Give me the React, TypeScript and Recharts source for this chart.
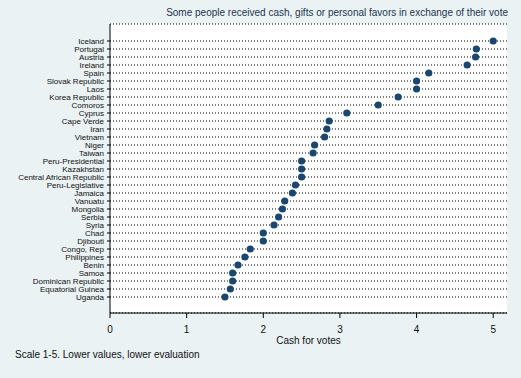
import { ScatterChart, Scatter, XAxis, YAxis, CartesianGrid } from "recharts";

const countries = [
  "Iceland", "Portugal", "Austria", "Ireland", "Spain", "Slovak Republic", "Laos",
  "Korea Republic", "Comoros", "Cyprus", "Cape Verde", "Iran", "Vietnam", "Niger",
  "Taiwan", "Peru-Presidential", "Kazakhstan", "Central African Republic",
  "Peru-Legislative", "Jamaica", "Vanuatu", "Mongolia", "Serbia", "Syria", "Chad",
  "Djibouti", "Congo, Rep", "Philippines", "Benin", "Samoa", "Dominican Republic",
  "Equatorial Guinea", "Uganda",
];

const cashForVotes = [
  5.0, 4.78, 4.77, 4.66, 4.16, 4.0, 4.0,
  3.76, 3.5, 3.09, 2.86, 2.83, 2.8, 2.67,
  2.65, 2.5, 2.5, 2.5,
  2.42, 2.38, 2.28, 2.25, 2.2, 2.14, 2.0,
  2.0, 1.83, 1.76, 1.67, 1.6, 1.6,
  1.57, 1.5,
];

const xTicks = [0, 1, 2, 3, 4, 5];

const data = countries.map((country, i) => ({ country, value: cashForVotes[i] }));

const FONT = "'Liberation Sans', Arial, Helvetica, sans-serif";
const NAVY = "#1a476f";

const Dot = (props: any) => <circle cx={props.cx} cy={props.cy} r={3.6} fill={NAVY} />;

// plain text tick so long country names don't get wrapped
const CountryTick = (props: any) => {
  const { x, y, payload } = props;
  return (
    <text
      x={x}
      y={y}
      dy="0.35em"
      textAnchor="end"
      fontSize={8}
      fill="#111"
      fontFamily={FONT}
    >
      {payload.value}
    </text>
  );
};

export default function App() {
  return (
    <div
      style={{
        position: "absolute",
        left: 0,
        top: 0,
        width: 521,
        height: 378,
        background: "#eaf2f3",
        fontFamily: FONT,
      }}
    >
      <div
        style={{
          position: "absolute",
          right: 13,
          top: 7,
          fontSize: 10,
          color: "#1e3450",
          whiteSpace: "nowrap",
        }}
      >
        Some people received cash, gifts or personal favors in exchange of their vote
      </div>
      <ScatterChart
        width={521}
        height={378}
        margin={{ top: 24, right: 14, bottom: 33, left: 0 }}
      >
        <CartesianGrid
          fill="#ffffff"
          vertical={false}
          stroke="#000000"
          strokeDasharray="1 2"
        />
        <XAxis
          type="number"
          dataKey="value"
          domain={[0, 5.18]}
          ticks={xTicks}
          allowDataOverflow
          height={32}
          tickSize={5}
          tickMargin={8}
          stroke="#000"
          tick={{ fontSize: 10, fill: "#111", fontFamily: FONT }}
          label={{
            value: "Cash for votes",
            position: "insideBottom",
            offset: 1,
            fontSize: 10,
            fill: "#111",
            fontFamily: FONT,
          }}
        />
        <YAxis
          type="category"
          dataKey="country"
          reversed
          interval={0}
          width={110}
          padding={{ top: 13, bottom: 12 }}
          tickSize={3}
          tickMargin={3}
          stroke="#000"
          tick={<CountryTick />}
        />
        <Scatter data={data} shape={Dot} isAnimationActive={false} />
      </ScatterChart>
      <div
        style={{
          position: "absolute",
          left: 15,
          top: 349,
          fontSize: 10,
          color: "#111",
          whiteSpace: "nowrap",
        }}
      >
        Scale 1-5. Lower values, lower evaluation
      </div>
    </div>
  );
}
